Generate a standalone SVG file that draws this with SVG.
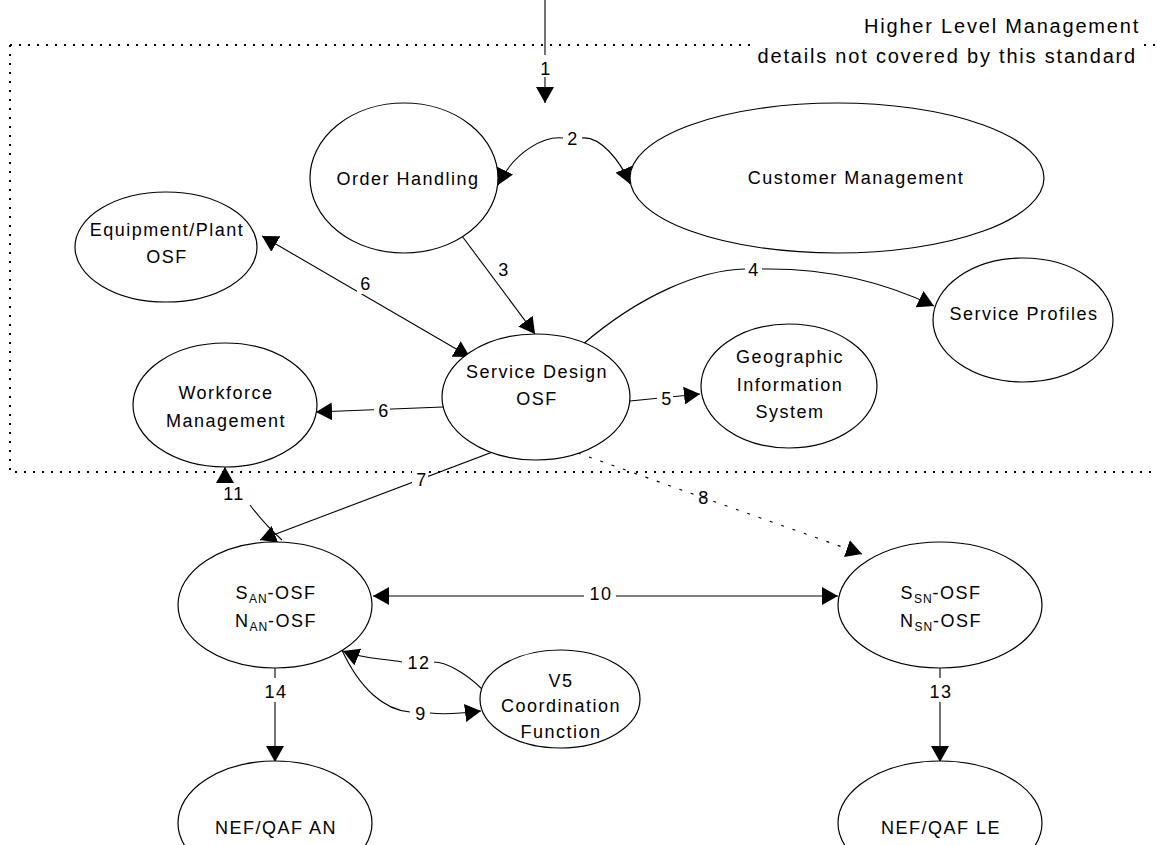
<svg xmlns="http://www.w3.org/2000/svg" width="1157" height="845" viewBox="0 0 1157 845">
<style>
.n{fill:#fff;stroke:#000;stroke-width:1.2}
.t{font-family:"Liberation Sans",Arial,sans-serif;font-size:18px;letter-spacing:1.5px;fill:#000;text-anchor:middle}
.h{font-size:20px;letter-spacing:1.8px;text-anchor:end}
.s{font-size:12px;letter-spacing:0.8px}
.c{fill:none;stroke:#000;stroke-width:1.1}
.d{stroke-dasharray:3 9}
.lb{fill:#fff;stroke:none}
</style>
<defs>
<marker id="a" viewBox="0 0 16 18" refX="16" refY="9" markerWidth="16" markerHeight="18" markerUnits="userSpaceOnUse" orient="auto-start-reverse"><path d="M0,0L16,9L0,18Z" fill="#000"/></marker>
</defs>
<rect width="1157" height="845" fill="#fff"/>
<g id="boundary">
<path d="M10,45H1157M10,45V472H1157" fill="none" stroke="#000" stroke-width="2" stroke-dasharray="2 7"/>
<rect x="752" y="38" width="390" height="30" fill="#fff"/>
<text class="t h" x="1140" y="33">Higher Level Management</text>
<text class="t h" x="1137" y="63">details not covered by this standard</text>
</g>
<g id="connectors">
<path class="c" d="M545,0V103" marker-end="url(#a)"/>
<path class="c" d="M498,185C515,150 545,136 563,138M582,138C600,136 620,160 630,184" marker-start="url(#a)" marker-end="url(#a)"/>
<path class="c" d="M462,236L535,334" marker-end="url(#a)"/>
<path class="c" d="M582,345C640,295 700,270 745,269M762,269C820,268 880,280 934,306" marker-end="url(#a)"/>
<path class="c" d="M630,401L700,394" marker-end="url(#a)"/>
<path class="c" d="M262,236L470,357" marker-start="url(#a)" marker-end="url(#a)"/>
<path class="c" d="M443,407L316,412" marker-end="url(#a)"/>
<path class="c" d="M535,436L260,540" marker-end="url(#a)"/>
<path class="c d" d="M555,445L862,554" marker-end="url(#a)"/>
<path class="c" d="M341,648C360,690 385,710 410,712M430,713C445,715 465,713 481,711" marker-end="url(#a)"/>
<path class="c" d="M373,596H838" marker-start="url(#a)" marker-end="url(#a)"/>
<path class="c" d="M282,540C265,525 256,513 250,505" />
<path class="c" d="M225,482V467" marker-end="url(#a)"/>
<path class="c" d="M483,690C465,672 445,662 434,662M402,662C385,658 365,660 343,651" marker-end="url(#a)"/>
<path class="c" d="M940,668V762" marker-end="url(#a)"/>
<path class="c" d="M275,668V762" marker-end="url(#a)"/>
<rect class="lb" x="537" y="55" width="16" height="22"/>
<rect class="lb" x="500" y="256" width="14" height="24"/>
<rect class="lb" x="357" y="270" width="16" height="24"/>
<rect class="lb" x="374" y="398" width="16" height="24"/>
<rect class="lb" x="657" y="386" width="16" height="24"/>
<rect class="lb" x="412" y="466" width="16" height="24"/>
<rect class="lb" x="584" y="581" width="32" height="24"/>
<rect class="lb" x="924" y="678" width="32" height="24"/>
<rect class="lb" x="259" y="678" width="32" height="24"/>
<text class="t" x="546" y="75">1</text>
<text class="t" x="573" y="145">2</text>
<text class="t" x="504" y="276">3</text>
<text class="t" x="754" y="276">4</text>
<text class="t" x="667" y="405">5</text>
<text class="t" x="366" y="290">6</text>
<text class="t" x="384" y="417">6</text>
<text class="t" x="422" y="486">7</text>
<text class="t" x="704" y="504">8</text>
<text class="t" x="421" y="720">9</text>
<text class="t" x="601" y="600">10</text>
<text class="t" x="234" y="500">11</text>
<text class="t" x="419" y="669">12</text>
<text class="t" x="941" y="698">13</text>
<text class="t" x="276" y="698">14</text>
</g>
<g id="order-handling"><ellipse class="n" cx="404" cy="178" rx="94" ry="75"/><text class="t" x="408" y="185">Order Handling</text></g>
<g id="customer-management"><ellipse class="n" cx="837" cy="178" rx="207" ry="75"/><text class="t" x="856" y="184">Customer Management</text></g>
<g id="equipment-plant"><ellipse class="n" cx="166" cy="247" rx="91" ry="55"/><text class="t" x="167" y="236">Equipment/Plant</text><text class="t" x="167" y="263">OSF</text></g>
<g id="service-design"><ellipse class="n" cx="536" cy="397" rx="94" ry="63"/><text class="t" x="537" y="378">Service Design</text><text class="t" x="537" y="405">OSF</text></g>
<g id="workforce"><ellipse class="n" cx="225" cy="405" rx="92" ry="62"/><text class="t" x="226" y="399">Workforce</text><text class="t" x="226" y="427">Management</text></g>
<g id="gis"><ellipse class="n" cx="789" cy="386" rx="88" ry="62"/><text class="t" x="790" y="363">Geographic</text><text class="t" x="790" y="391">Information</text><text class="t" x="790" y="418">System</text></g>
<g id="service-profiles"><ellipse class="n" cx="1023" cy="320" rx="90" ry="62"/><text class="t" x="1024" y="320">Service Profiles</text></g>
<g id="s-an"><ellipse class="n" cx="275" cy="605" rx="97" ry="63"/><text class="t" x="276" y="599">S<tspan class="s" dy="4">AN</tspan><tspan dy="-4">-OSF</tspan></text><text class="t" x="276" y="627">N<tspan class="s" dy="4">AN</tspan><tspan dy="-4">-OSF</tspan></text></g>
<g id="s-sn"><ellipse class="n" cx="940" cy="605" rx="102" ry="63"/><text class="t" x="941" y="599">S<tspan class="s" dy="4">SN</tspan><tspan dy="-4">-OSF</tspan></text><text class="t" x="941" y="627">N<tspan class="s" dy="4">SN</tspan><tspan dy="-4">-OSF</tspan></text></g>
<g id="v5"><ellipse class="n" cx="560" cy="699" rx="80" ry="49"/><text class="t" x="561" y="687">V5</text><text class="t" x="561" y="712">Coordination</text><text class="t" x="561" y="738">Function</text></g>
<g id="nef-an"><ellipse class="n" cx="275" cy="823" rx="97" ry="62"/><text class="t" x="276" y="834">NEF/QAF AN</text></g>
<g id="nef-le"><ellipse class="n" cx="940" cy="823" rx="102" ry="62"/><text class="t" x="941" y="834">NEF/QAF LE</text></g>
</svg>
